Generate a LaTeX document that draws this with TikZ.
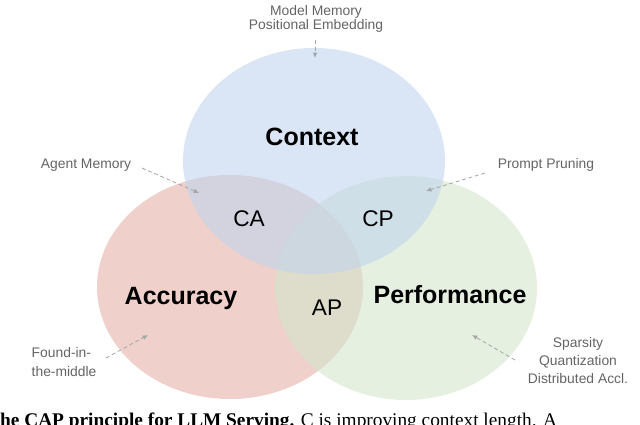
\documentclass[tikz,border=0pt]{standalone}
\usepackage{fontspec}
\setmainfont{Liberation Sans}
\newfontfamily\capfont{Liberation Serif}
\usetikzlibrary{arrows.meta}

\definecolor{ctxblue}{RGB}{193,212,238}
\definecolor{accred}{RGB}{228,177,168}
\definecolor{perfgreen}{RGB}{212,230,203}
\definecolor{hintgray}{RGB}{100,100,100}
\definecolor{dashgray}{RGB}{165,165,165}

\begin{document}
\begin{tikzpicture}[x=0.75pt,y=-0.75pt,
    setlabel/.style={anchor=base, font=\fontsize{18.75}{22}\selectfont\bfseries},
    pairlabel/.style={anchor=base, font=\fontsize{17}{20}\selectfont},
    hint/.style={anchor=base, font=\fontsize{10.4}{13.5}\selectfont, text=hintgray, align=center},
    pointer/.style={draw=dashgray, line width=0.6pt, dash pattern=on 3pt off 2pt,
        -{Latex[length=4pt,width=3.5pt]}}]
    \useasboundingbox (0,0) rectangle (640,425);
    \clip (0,0) rectangle (640,425);

    % the three sets
    \fill[accred, fill opacity=0.6] (230,287) ellipse [x radius=133, y radius=112];
    \fill[perfgreen, fill opacity=0.6] (406,288) ellipse [x radius=131, y radius=112];
    \fill[ctxblue, fill opacity=0.6] (314,161) ellipse [x radius=131, y radius=113];

    \node[setlabel] (context) at (312,145) {Context};
    \node[setlabel] (accuracy) at (181,304) {Accuracy};
    \node[setlabel] (performance) at (450,303) {Performance};
    \node[pairlabel] (ca) at (249,226) {CA};
    \node[pairlabel] (cp) at (378,226) {CP};
    \node[pairlabel] (ap) at (327,315) {AP};

    % notes and pointers (base = last line)
    \node[hint, font=\fontsize{10.4}{10.5}\selectfont] (modelmem) at (316,29) {Model Memory\\Positional Embedding};
    \node[hint] (agentmem) at (86,168) {Agent Memory};
    \node[hint] (pruning) at (546,168) {Prompt Pruning};
    \node[hint, align=left, anchor=base west, font=\fontsize{10.4}{14}\selectfont] (found) at (27,376) {Found-in-\\the-middle};
    \node[hint] (sparsity) at (578,383) {Sparsity\\Quantization\\Distributed Accl.};

    \coordinate (topFrom) at (315,40);
    \coordinate (topTip) at (315,58);
    \coordinate (caFrom) at (142,168);
    \coordinate (caTip) at (199,193);
    \coordinate (cpFrom) at (485,173);
    \coordinate (cpTip) at (426,191);
    \coordinate (foundFrom) at (106,358);
    \coordinate (foundTip) at (148,335);
    \coordinate (perfFrom) at (515,360);
    \coordinate (perfTip) at (472,335);
    \draw[pointer] (topFrom) -- (topTip);
    \draw[pointer] (caFrom) -- (caTip);
    \draw[pointer] (cpFrom) -- (cpTip);
    \draw[pointer] (foundFrom) -- (foundTip);
    \draw[pointer] (perfFrom) -- (perfTip);

    % caption, cut off at the bottom edge
    \node[anchor=base west, inner sep=0pt, font=\capfont\fontsize{14.5}{17}\selectfont] (caption) at (-13,426)
        {\textbf{The CAP principle for LLM Serving.} C is improving context length. A};
\end{tikzpicture}
\end{document}
